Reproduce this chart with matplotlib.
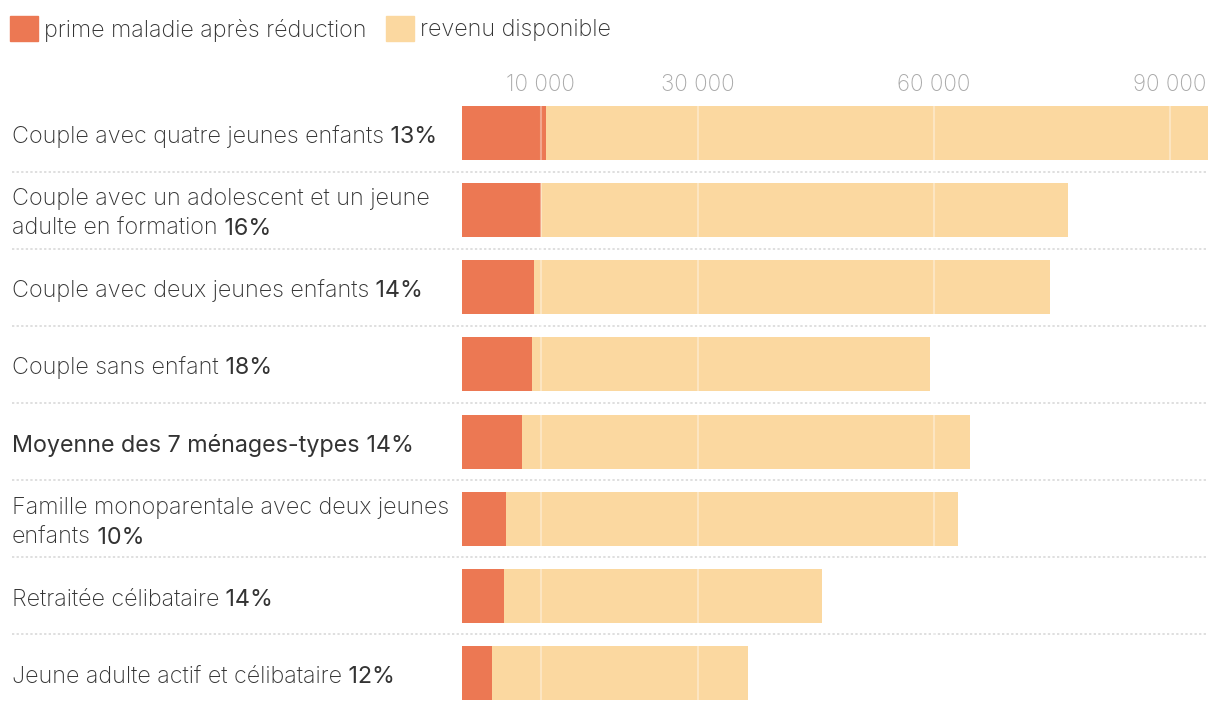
import matplotlib.pyplot as plt
from matplotlib.patches import Rectangle

plt.rcParams['font.family'] = ['Inter', 'DejaVu Sans']

# ménages-types (du haut vers le bas)
menages = [
    "Couple avec quatre jeunes enfants",
    "Couple avec un adolescent et un jeune\nadulte en formation",
    "Couple avec deux jeunes enfants",
    "Couple sans enfant",
    "Moyenne des 7 ménages-types",
    "Famille monoparentale avec deux jeunes\nenfants",
    "Retraitée célibataire",
    "Jeune adulte actif et célibataire",
]
pourcentages = ["13%", "16%", "14%", "18%", "14%", "10%", "14%", "12%"]
prime = [10700, 10100, 9150, 8900, 7650, 5600, 5340, 3810]
revenu = [84130, 66930, 65590, 50590, 56920, 57450, 40420, 32545]
ticks = [10000, 30000, 60000, 90000]
tick_labels = ["10 000", "30 000", "60 000", "90 000"]

ROUGE = "#ec7853"
JAUNE = "#fbd8a0"
TEXTE = "#333333"

W, H = 1220, 710
fig = plt.figure(figsize=(W / 100, H / 100), dpi=100)

# axes: barres de x=462 à 1208 px, centres de 133 à 673 px
pitch = (673 - 133) / 7
top = 133 - pitch / 2
bottom = 673 + pitch / 2
ax = fig.add_axes([462 / W, (H - bottom) / H, 746 / W, (bottom - top) / H])

y = list(range(len(menages)))
ax.barh(y, prime, height=0.7, color=ROUGE, lw=0)
ax.barh(y, revenu, left=prime, height=0.7, color=JAUNE, lw=0)
ax.set_xlim(0, prime[0] + revenu[0])
ax.set_ylim(len(menages) - 0.5, -0.5)

ax.xaxis.tick_top()
ax.set_xticks(ticks)
ax.set_xticklabels(tick_labels)
ax.tick_params(axis='x', length=0, pad=-0.8, labelsize=16.2, labelcolor="#aaaaaa")
for lab in ax.get_xticklabels():
    lab.set_fontweight('light')
ax.set_yticks([])
ax.grid(axis='x', color='white', alpha=0.35, lw=1.5)
ax.set_axisbelow(False)
for s in ax.spines.values():
    s.set_visible(False)

# séparateurs pointillés
x0 = (12 - 462) / 746
for i in range(len(menages) - 1):
    ax.axhline(i + 0.5, xmin=x0, xmax=1, clip_on=False, color="#d6d6d6",
               lw=1.1, ls=(0, (1.5, 1.5)), zorder=0)

# libellés à gauche
FS = 16.8
for i, (nom, pct) in enumerate(zip(menages, pourcentages)):
    lignes = nom.split("\n")
    poids = 'normal' if nom.startswith("Moyenne") else 'light'
    if len(lignes) == 1:
        offs = [-10]
    else:
        offs = [5, -25]
    for ligne, off in zip(lignes, offs):
        t = ax.annotate(ligne, xy=(12, i), xycoords=('figure pixels', 'data'),
                        xytext=(0, off), textcoords='offset pixels',
                        ha='left', va='baseline', fontsize=FS,
                        color=TEXTE, fontweight=poids, annotation_clip=False)
    ax.annotate(" " + pct, xy=(1, 0), xycoords=t, ha='left', va='bottom',
                fontsize=FS, color=TEXTE, fontweight='normal')

# légende
for xc, lab, col in [(10, "prime maladie après réduction", ROUGE),
                     (386, "revenu disponible", JAUNE)]:
    fig.patches.append(Rectangle((xc / W, (H - 41) / H), 28 / W, 25 / H,
                                 transform=fig.transFigure, color=col))
    fig.text((xc + 34) / W, (H - 30) / H, lab, ha='left', va='center',
             fontsize=FS, color=TEXTE, fontweight='light')

fig.savefig("out.png", dpi=100)
